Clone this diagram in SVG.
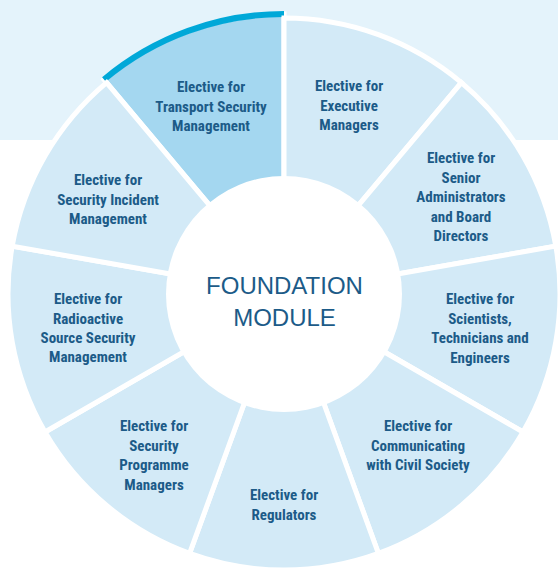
<svg xmlns="http://www.w3.org/2000/svg" width="558" height="572" viewBox="0 0 558 572">
<style>
.seg{fill:#d3eaf7;stroke:#ffffff;stroke-width:5;stroke-linejoin:miter}
.hl{fill:#a4d7f0}
.lbl{font-family:"Liberation Sans Narrow","Roboto Condensed","DejaVu Sans Condensed",sans-serif;font-weight:bold;font-size:15px;fill:#1c5b88;text-anchor:middle}
.core{font-family:"Liberation Sans",Arial,sans-serif;font-size:24px;fill:#1c5b88;text-anchor:middle}
</style>
<rect x="0" y="0" width="558" height="140" fill="#e4f3fb"/>
<g id="seg-transport">
<path class="seg hl" d="M284,294 L104.0,79.5 A280,280 0 0 1 284,14 Z"/>
<path d="M104.0,79.5 A280,280 0 0 1 284,14" fill="none" stroke="#00a8d8" stroke-width="6"/>
<text class="lbl" x="211" y="92">Elective for</text>
<text class="lbl" x="211" y="111.5">Transport Security</text>
<text class="lbl" x="211" y="131">Management</text>
</g>
<g id="seg-executive">
<path class="seg" d="M284,294 L284,18 A276,276 0 0 1 461.4,82.6 Z"/>
<text class="lbl" x="349" y="91">Elective for</text>
<text class="lbl" x="349" y="110.5">Executive</text>
<text class="lbl" x="349" y="130">Managers</text>
</g>
<g id="seg-senior">
<path class="seg" d="M284,294 L461.4,82.6 A276,276 0 0 1 555.8,246.1 Z"/>
<text class="lbl" x="461" y="163">Elective for</text>
<text class="lbl" x="461" y="182.5">Senior</text>
<text class="lbl" x="461" y="202">Administrators</text>
<text class="lbl" x="461" y="221.5">and Board</text>
<text class="lbl" x="461" y="241">Directors</text>
</g>
<g id="seg-scientists">
<path class="seg" d="M284,294 L555.8,246.1 A276,276 0 0 1 523.0,432.0 Z"/>
<text class="lbl" x="480" y="304">Elective for</text>
<text class="lbl" x="480" y="323.5">Scientists,</text>
<text class="lbl" x="480" y="343">Technicians and</text>
<text class="lbl" x="480" y="362.5">Engineers</text>
</g>
<g id="seg-communicating">
<path class="seg" d="M284,294 L523.0,432.0 A276,276 0 0 1 378.4,553.4 Z"/>
<text class="lbl" x="418" y="431">Elective for</text>
<text class="lbl" x="418" y="450.5">Communicating</text>
<text class="lbl" x="418" y="470">with Civil Society</text>
</g>
<g id="seg-regulators">
<path class="seg" d="M284,294 L378.4,553.4 A276,276 0 0 1 189.6,553.4 Z"/>
<text class="lbl" x="284" y="500">Elective for</text>
<text class="lbl" x="284" y="520">Regulators</text>
</g>
<g id="seg-programme">
<path class="seg" d="M284,294 L189.6,553.4 A276,276 0 0 1 45.0,432.0 Z"/>
<text class="lbl" x="154" y="431">Elective for</text>
<text class="lbl" x="154" y="450.5">Security</text>
<text class="lbl" x="154" y="470">Programme</text>
<text class="lbl" x="154" y="490">Managers</text>
</g>
<g id="seg-radioactive">
<path class="seg" d="M284,294 L45.0,432.0 A276,276 0 0 1 12.2,246.1 Z"/>
<text class="lbl" x="88" y="304">Elective for</text>
<text class="lbl" x="88" y="323.5">Radioactive</text>
<text class="lbl" x="88" y="343">Source Security</text>
<text class="lbl" x="88" y="362">Management</text>
</g>
<g id="seg-incident">
<path class="seg" d="M284,294 L12.2,246.1 A276,276 0 0 1 106.6,82.6 Z"/>
<text class="lbl" x="108" y="185">Elective for</text>
<text class="lbl" x="108" y="204.5">Security Incident</text>
<text class="lbl" x="108" y="224">Management</text>
</g>
<g id="foundation">
<circle cx="284" cy="294" r="118" fill="#ffffff"/>
<text class="core" x="284.5" y="294">FOUNDATION</text>
<text class="core" x="284.5" y="326">MODULE</text>
</g>
</svg>
